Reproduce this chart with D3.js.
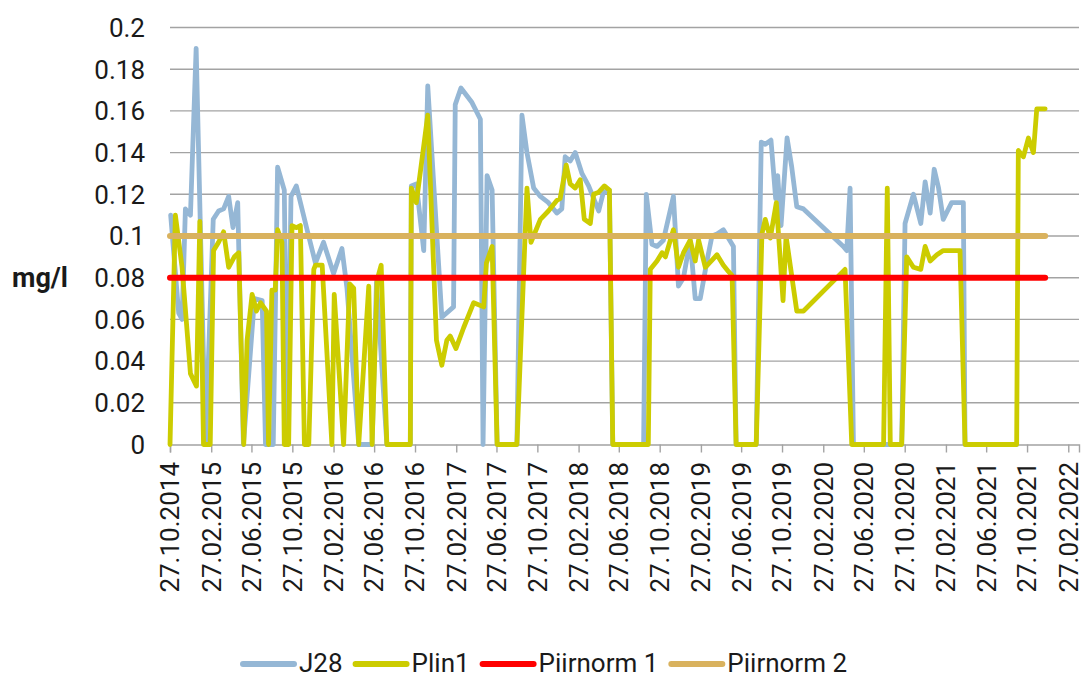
<!DOCTYPE html>
<html><head><meta charset="utf-8">
<script src="https://cdn.jsdelivr.net/npm/d3@7"></script>
<style>body{margin:0;background:#fff}svg{display:block;font-family:Roboto,"Noto Sans",sans-serif}</style>
</head><body><svg id="c" width="1081" height="675"></svg>
<script>
const tickLabels = ["27.10.2014","27.02.2015","27.06.2015","27.10.2015","27.02.2016","27.06.2016","27.10.2016","27.02.2017","27.06.2017","27.10.2017","27.02.2018","27.06.2018","27.10.2018","27.02.2019","27.06.2019","27.10.2019","27.02.2020","27.06.2020","27.10.2020","27.02.2021","27.06.2021","27.10.2021","27.02.2022"];
const yTicks = [0,0.02,0.04,0.06,0.08,0.1,0.12,0.14,0.16,0.18,0.2];
const seriesNames = ["J28","Plin1","Piirnorm 1","Piirnorm 2"];
const seriesColors = ["#95b7d5","#cccc00","#ff0000","#d9b25e"];

const j28Dates = ["2014-10-29","2014-11-22","2014-12-02","2014-12-12","2014-12-27","2015-01-13","2015-02-10","2015-03-05","2015-03-21","2015-04-05","2015-04-20","2015-05-03","2015-05-17","2015-06-03","2015-07-06","2015-07-29","2015-08-08","2015-08-31","2015-09-13","2015-10-03","2015-10-12","2015-10-23","2015-11-08","2015-12-10","2016-01-04","2016-01-28","2016-02-27","2016-03-23","2016-04-07","2016-05-12","2016-06-21","2016-07-04","2016-08-04","2016-10-13","2016-10-16","2016-10-31","2016-11-22","2016-12-04","2017-01-15","2017-02-19","2017-02-24","2017-03-13","2017-04-15","2017-05-10","2017-05-18","2017-05-30","2017-06-14","2017-06-29","2017-08-27","2017-09-11","2017-09-26","2017-10-16","2017-11-05","2017-11-29","2017-12-24","2018-01-08","2018-01-18","2018-02-02","2018-02-17","2018-03-09","2018-03-29","2018-04-13","2018-04-28","2018-05-12","2018-05-30","2018-06-09","2018-09-09","2018-09-17","2018-10-04","2018-10-19","2018-11-07","2018-12-07","2018-12-22","2019-01-06","2019-01-26","2019-02-10","2019-02-25","2019-03-17","2019-04-01","2019-04-16","2019-05-05","2019-06-04","2019-06-12","2019-08-11","2019-08-26","2019-09-07","2019-09-24","2019-10-08","2019-10-14","2019-10-24","2019-11-11","2019-11-25","2019-12-10","2019-12-30","2020-04-27","2020-05-07","2020-05-17","2020-05-27","2020-10-18","2020-10-28","2020-11-22","2020-12-14","2020-12-27","2021-01-11","2021-01-23","2021-02-05","2021-02-19","2021-03-16","2021-04-20","2021-04-25","2021-09-26"];
const j28Values = [0.110,0.063,0.060,0.113,0.110,0.190,0,0.108,0.112,0.113,0.119,0.104,0.116,0,0.070,0.069,0,0,0.133,0.122,0,0.119,0.124,0.103,0.087,0.097,0.082,0.094,0.075,0,0,0.078,0,0,0.124,0.125,0.093,0.172,0.061,0.066,0.163,0.171,0.164,0.156,0,0.129,0.122,0,0,0.158,0.140,0.123,0.119,0.116,0.111,0.113,0.138,0.136,0.140,0.130,0.124,0.118,0.112,0.121,0.122,0,0,0.120,0.096,0.095,0.098,0.119,0.076,0.080,0.098,0.070,0.070,0.088,0.100,0.101,0.103,0.095,0,0,0.145,0.144,0.146,0.118,0.129,0.105,0.147,0.133,0.114,0.113,0.095,0.093,0.123,0,0,0.106,0.120,0.106,0.126,0.111,0.132,0.123,0.108,0.116,0.116,0,0];

const plinDates = ["2014-10-27","2014-11-12","2014-12-02","2014-12-27","2015-01-14","2015-01-24","2015-02-04","2015-02-24","2015-03-06","2015-03-21","2015-04-05","2015-04-20","2015-05-07","2015-05-20","2015-06-04","2015-06-14","2015-06-29","2015-07-12","2015-07-24","2015-08-11","2015-08-17","2015-08-27","2015-09-06","2015-09-13","2015-09-26","2015-10-03","2015-10-16","2015-10-26","2015-11-08","2015-11-20","2015-12-02","2015-12-15","2015-12-30","2016-01-04","2016-01-24","2016-02-22","2016-02-29","2016-03-28","2016-04-15","2016-04-27","2016-05-12","2016-06-11","2016-06-21","2016-07-06","2016-07-18","2016-08-04","2016-10-13","2016-10-16","2016-10-31","2016-12-04","2016-12-30","2017-01-15","2017-01-30","2017-02-09","2017-02-26","2017-03-21","2017-04-20","2017-05-20","2017-05-28","2017-06-14","2017-06-29","2017-08-27","2017-09-26","2017-10-08","2017-11-05","2017-11-29","2017-12-24","2018-01-03","2018-01-21","2018-02-02","2018-02-17","2018-03-04","2018-03-16","2018-04-03","2018-04-13","2018-04-28","2018-05-15","2018-05-30","2018-06-09","2018-09-23","2018-09-29","2018-10-19","2018-11-03","2018-11-13","2018-12-07","2018-12-22","2019-01-06","2019-01-26","2019-02-10","2019-02-20","2019-03-12","2019-04-16","2019-05-05","2019-05-20","2019-05-31","2019-06-12","2019-08-11","2019-08-28","2019-09-07","2019-09-22","2019-10-10","2019-10-30","2019-11-08","2019-12-10","2019-12-30","2020-05-02","2020-05-22","2020-08-25","2020-09-05","2020-09-14","2020-10-18","2020-11-02","2020-11-22","2020-12-14","2020-12-27","2021-01-11","2021-01-31","2021-02-19","2021-04-10","2021-04-25","2021-09-26","2021-10-01","2021-10-16","2021-10-31","2021-11-15","2021-11-25","2021-12-20"];
const plinValues = [0,0.110,0.085,0.034,0.028,0.107,0,0,0.093,0.097,0.102,0.085,0.090,0.092,0,0.050,0.072,0.064,0.068,0.064,0,0.074,0.074,0.103,0.097,0,0,0.105,0.104,0.105,0,0,0.084,0.086,0.086,0,0.072,0,0.077,0.075,0,0.076,0,0.079,0.086,0,0,0.123,0.116,0.158,0.050,0.038,0.050,0.052,0.046,0.056,0.068,0.066,0.087,0.095,0,0,0.123,0.097,0.108,0.112,0.117,0.118,0.134,0.125,0.123,0.127,0.108,0.106,0.120,0.121,0.124,0.122,0,0,0.084,0.088,0.092,0.090,0.103,0.085,0.092,0.098,0.088,0.098,0.085,0.091,0.086,0.083,0.081,0,0,0.101,0.108,0.099,0.116,0.069,0.100,0.064,0.064,0.084,0,0,0.123,0,0,0.090,0.085,0.084,0.095,0.088,0.091,0.093,0.093,0,0,0.141,0.138,0.147,0.140,0.161,0.161];

const normDates = ["2014-10-27","2021-12-20"];
const norm1Values = [0.08,0.08];
const norm2Values = [0.1,0.1];
const axisStart = "2014-10-27", axisEnd = "2022-03-31";

const parse = d3.utcParse("%Y-%m-%d");
const parseTick = d3.utcParse("%d.%m.%Y");
const svg = d3.select("#c");
const x = d3.scaleUtc().domain([parse(axisStart), parse(axisEnd)]).range([170, 1079]);
const y = d3.scaleLinear().domain([0, 0.2]).range([444.5, 27.5]);

// gridlines
svg.append("g").selectAll("line").data(yTicks.slice(1)).join("line")
  .attr("x1", 170).attr("x2", 1079).attr("y1", d => y(d)).attr("y2", d => y(d))
  .attr("stroke", "#a3a3a3").attr("stroke-width", 1.4);

// y labels
svg.append("g").selectAll("text").data(yTicks).join("text")
  .attr("x", 145).attr("y", d => y(d)).attr("dy", "0.36em")
  .attr("text-anchor", "end").attr("font-size", 26).attr("fill", "#1a1a1a")
  .text(d => d3.format("~g")(d));

svg.append("text").attr("x", 12).attr("y", y(0.08)).attr("dy", "0.36em")
  .attr("font-size", 27).attr("font-weight", "bold").attr("fill", "#1a1a1a").text("mg/l");

// x axis
const tickDates = tickLabels.map(parseTick);
const xAxis = d3.axisBottom(x).tickValues(tickDates).tickSize(8).tickFormat("");
const gx = svg.append("g").attr("transform", "translate(0,444.5)").call(xAxis);
gx.select(".domain").attr("stroke", "#a3a3a3").attr("stroke-width", 1.4);
gx.selectAll(".tick line").attr("stroke", "#a3a3a3").attr("stroke-width", 1.4);
svg.append("g").selectAll("text").data(tickDates).join("text")
  .attr("transform", d => `translate(${x(d)},462) rotate(-90)`)
  .attr("dy", "0.36em").attr("text-anchor", "end")
  .attr("font-size", 26).attr("fill", "#1a1a1a")
  .text((d, i) => tickLabels[i]);

// series
const line = d3.line().x(d => x(d[0])).y(d => y(d[1]));
const series = [
  d3.zip(j28Dates.map(parse), j28Values),
  d3.zip(plinDates.map(parse), plinValues),
  d3.zip(normDates.map(parse), norm1Values),
  d3.zip(normDates.map(parse), norm2Values)
];
const widths = [4.8, 4.8, 6, 6];
series.forEach((s, i) => {
  svg.append("path").attr("d", line(s)).attr("fill", "none")
    .attr("stroke", seriesColors[i]).attr("stroke-width", widths[i])
    .attr("stroke-linejoin", "round").attr("stroke-linecap", "round");
});

// legend
const lg = svg.append("g");
let lx = 240;
seriesNames.forEach((n, i) => {
  lg.append("line").attr("x1", lx + 3).attr("x2", lx + 54).attr("y1", 664).attr("y2", 664)
    .attr("stroke", seriesColors[i]).attr("stroke-width", 6).attr("stroke-linecap", "round");
  const t = lg.append("text").attr("x", lx + 59).attr("y", 672)
    .attr("font-size", 26).attr("fill", "#1a1a1a").text(n);
  lx += 59 + t.node().getComputedTextLength() + 10;
});
</script></body></html>
